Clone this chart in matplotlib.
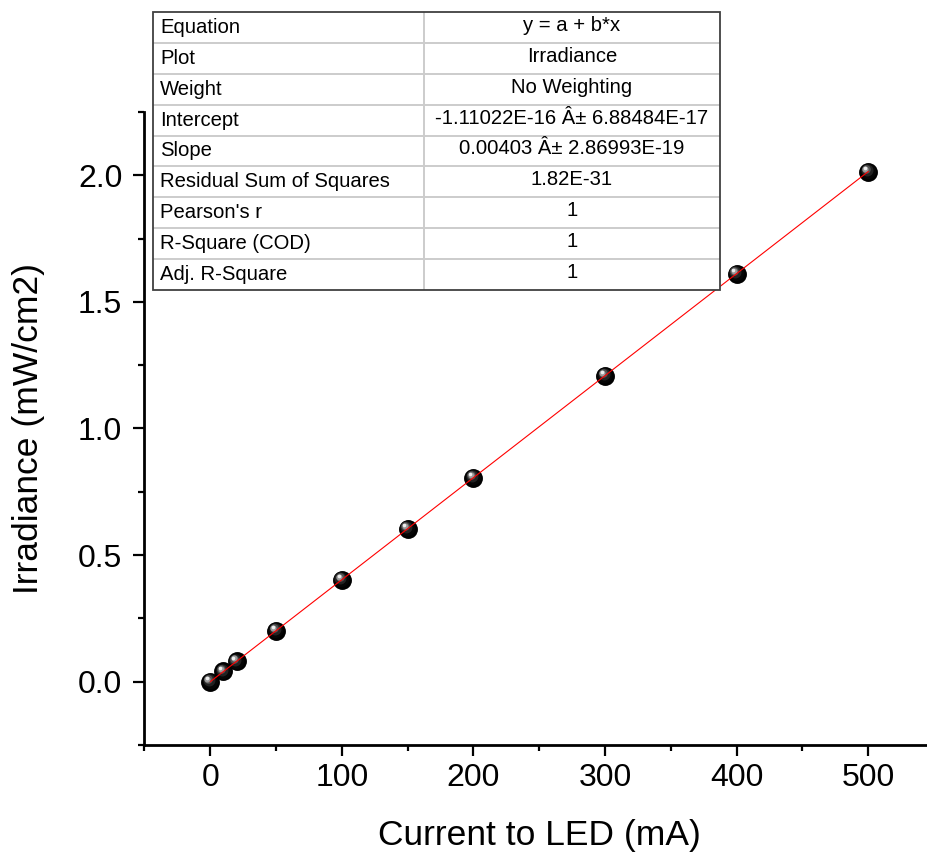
import matplotlib
matplotlib.use("Agg")
import matplotlib.pyplot as plt
from matplotlib.ticker import MultipleLocator
from matplotlib.transforms import offset_copy

plt.rcParams['font.family'] = ['Liberation Sans', 'DejaVu Sans']

# Data
current_mA = [0, 10, 20, 50, 100, 150, 200, 300, 400, 500]
irradiance = [0.0, 0.0403, 0.0806, 0.2015, 0.403, 0.6045, 0.806, 1.209, 1.612, 2.015]
fit_x = [0, 500]
fit_y = [0.0, 2.015]

table_labels = ["Equation", "Plot", "Weight", "Intercept", "Slope",
                "Residual Sum of Squares", "Pearson's r", "R-Square (COD)",
                "Adj. R-Square"]
table_values = ["y = a + b*x", "Irradiance", "No Weighting",
                "-1.11022E-16 Â± 6.88484E-17", "0.00403 Â± 2.86993E-19",
                "1.82E-31", "1", "1", "1"]

W, H = 928, 863
fig = plt.figure(figsize=(W / 100, H / 100), dpi=100)

x0, x1 = -50, 550
y0, y1 = -0.25, 2.25
left_px, bottom_px, top_px = 144.5, 745, 112
px_per_x = 131.6 / 100
right_px = left_px + (x1 - x0) * px_per_x
ax = fig.add_axes([left_px / W, 1 - bottom_px / H,
                   (right_px - left_px) / W, (bottom_px - top_px) / H])
ax.set_xlim(x0, x1)
ax.set_ylim(y0, y1)

for s in ['top', 'right']:
    ax.spines[s].set_visible(False)
for s in ['left', 'bottom']:
    ax.spines[s].set_linewidth(2.0)

ax.xaxis.set_major_locator(MultipleLocator(100))
ax.xaxis.set_minor_locator(MultipleLocator(50))
ax.yaxis.set_major_locator(MultipleLocator(0.5))
ax.yaxis.set_minor_locator(MultipleLocator(0.25))
ax.tick_params(which='major', direction='out', length=8, width=1.6,
               labelsize=23, pad=5)
ax.tick_params(axis='y', which='major', pad=8)
ax.tick_params(which='minor', direction='out', length=4, width=1.6)
ax.yaxis.set_major_formatter(plt.FuncFormatter(lambda v, p: f"{v:.1f}"))

ax.set_xlabel("Current to LED (mA)", fontsize=25.5, labelpad=19)
ax.set_ylabel("Irradiance (mW/cm2)", fontsize=25.5, labelpad=24)

# sphere-like markers
layers = [
    (13.6, '#000000', 0.0),
    (11.0, '#060606', 0.5),
    (8.6, '#222222', 1.1),
    (6.2, '#525252', 1.7),
    (4.4, '#9a9a9a', 2.1),
    (2.6, '#eeeeee', 2.4),
]
for size, col, off in layers:
    tr = offset_copy(ax.transData, fig=fig, x=-off, y=off, units='points')
    ax.plot(current_mA, irradiance, linestyle='none', marker='o',
            markersize=size, markerfacecolor=col, markeredgewidth=0,
            transform=tr, zorder=3, clip_on=False)

ax.plot(fit_x, fit_y, color='#ff0000', linewidth=0.8, zorder=4)

# Table
tl, tt, tr_, tb = 153, 12, 720, 290
tax = fig.add_axes([tl / W, 1 - tb / H, (tr_ - tl) / W, (tb - tt) / H])
tax.set_xlim(tl, tr_)
tax.set_ylim(tb, tt)
tax.axis('off')
tax.set_zorder(5)
tax.add_patch(plt.Rectangle((tl, tt), tr_ - tl, tb - tt, facecolor='white',
                            edgecolor='none', zorder=1))
col_x = 424
n = len(table_labels)
rh = (tb - tt) / n
for i in range(1, n):
    yy = tt + i * rh
    tax.plot([tl, tr_], [yy, yy], color='#cccccc', linewidth=1.4, zorder=2)
tax.plot([col_x, col_x], [tt, tb], color='#cccccc', linewidth=1.4, zorder=2)
tax.add_patch(plt.Rectangle((tl, tt), tr_ - tl, tb - tt, facecolor='none',
                            edgecolor='#404040', linewidth=1.3, zorder=4,
                            clip_on=False))
for i, (lab, val) in enumerate(zip(table_labels, table_values)):
    yc = tt + (i + 0.5) * rh
    tax.text(tl + 7, yc, lab, fontsize=14.6, ha='left', va='center', zorder=5)
    tax.text((col_x + tr_) / 2, yc - 2, val, fontsize=14.6, ha='center',
             va='center', zorder=5)

fig.savefig("out.png", dpi=100)
